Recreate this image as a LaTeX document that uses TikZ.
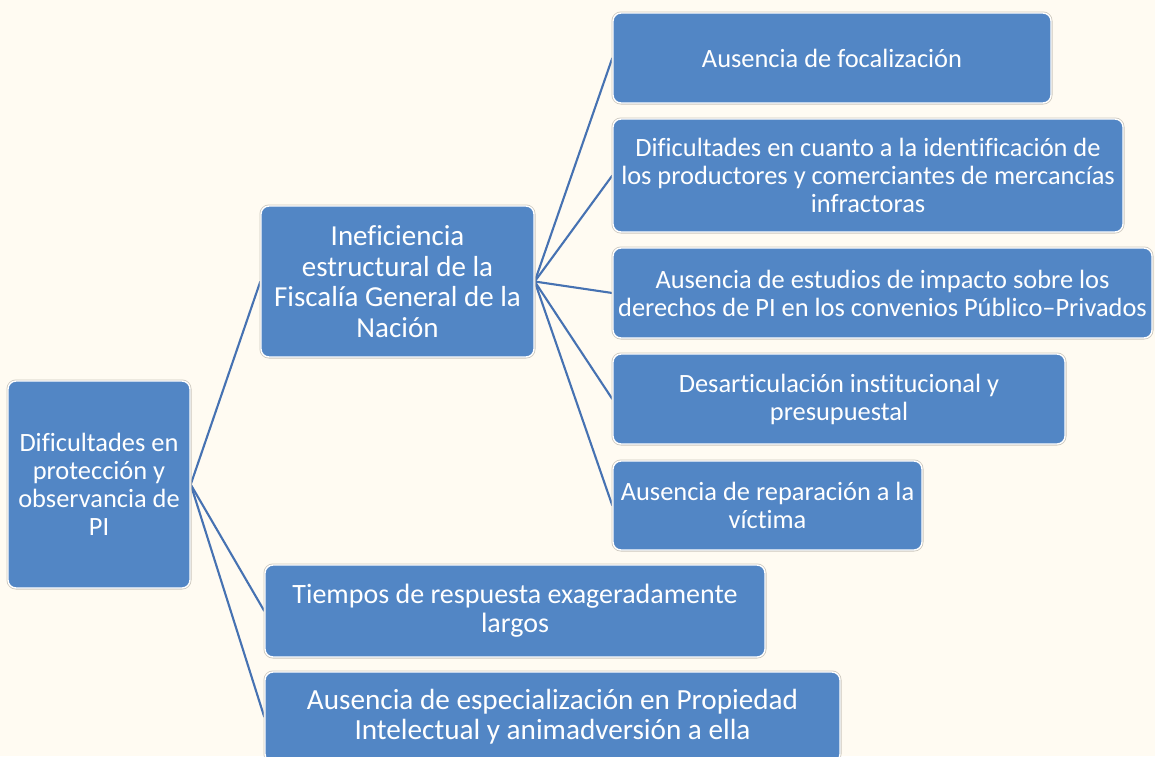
\documentclass[tikz,border=0pt]{standalone}
\usepackage{fontspec}
\setmainfont{Carlito}[Ligatures=NoCommon]
\definecolor{bgc}{RGB}{255,251,242}
\definecolor{boxc}{RGB}{82,134,197}
\definecolor{linkc}{RGB}{70,114,178}
\definecolor{shc}{RGB}{205,200,190}
\pgfdeclarelayer{bg}
\pgfdeclarelayer{lines}
\pgfsetlayers{bg,lines,main}
\tikzset{
  box/.style={rectangle, rounded corners=8pt, fill=boxc, draw=white, line width=1.4pt,
    preaction={draw=shc, line width=3pt},
    text=white, align=center, inner sep=0pt},
  link/.style={draw=linkc, line width=2.1pt},
  fa/.style={font=\fontsize{26.4}{28}\selectfont},
  fb/.style={font=\fontsize{29}{30.6}\selectfont},
  ft/.style={font=\fontsize{28}{29}\selectfont},
  fc/.style={font=\fontsize{29.2}{30}\selectfont},
}
\begin{document}
\begin{tikzpicture}[x=1pt,y=-1pt]
\begin{pgfonlayer}{bg}
\fill[bgc] (0,0) rectangle (1155,756);
\end{pgfonlayer}
\useasboundingbox (0,0) rectangle (1155,756);
\node[box,fa,minimum width=182pt,minimum height=207pt] (root) at (99,484.5)
  {Dificultades en\\protección y\\observancia de\\PI};
\node[box,fb,minimum width=273pt,minimum height=151pt] (inef) at (397.5,281.5)
  {Ineficiencia\\estructural de la\\Fiscalía General de la\\Nación};
\node[box,fa,minimum width=438pt,minimum height=90pt] (a1) at (832,58)
  {Ausencia de focalización};
\node[box,fa,minimum width=510pt,minimum height=113pt] (a2) at (868,175.5)
  {Dificultades en cuanto a la identificación de\\los productores y comerciantes de mercancías\\infractoras};
\node[box,fa,minimum width=539pt,minimum height=90pt] (a3) at (882.5,293)
  {Ausencia de estudios de impacto sobre los\\derechos de PI en los convenios Público–Privados};
\node[box,fa,minimum width=452pt,minimum height=90pt] (a4) at (839,399)
  {Desarticulación institucional y\\presupuestal};
\node[box,fa,minimum width=309pt,minimum height=89pt] (a5) at (767.5,505.5)
  {Ausencia de reparación a la\\víctima};
\node[box,ft,minimum width=500pt,minimum height=92pt] (t) at (515,611)
  {Tiempos de respuesta exageradamente\\largos};
\node[box,fc,minimum width=575pt,minimum height=90pt] (e) at (552.5,717)
  {Ausencia de especialización en Propiedad\\Intelectual y animadversión a ella};
\begin{pgfonlayer}{lines}
\draw[link] (root.east) -- (inef.west);
\draw[link] (root.east) -- (t.west);
\draw[link] (root.east) -- (e.west);
\draw[link] (inef.east) -- (a1.west);
\draw[link] (inef.east) -- (a2.west);
\draw[link] (inef.east) -- (a3.west);
\draw[link] (inef.east) -- (a4.west);
\draw[link] (inef.east) -- (a5.west);
\end{pgfonlayer}
\end{tikzpicture}
\end{document}
